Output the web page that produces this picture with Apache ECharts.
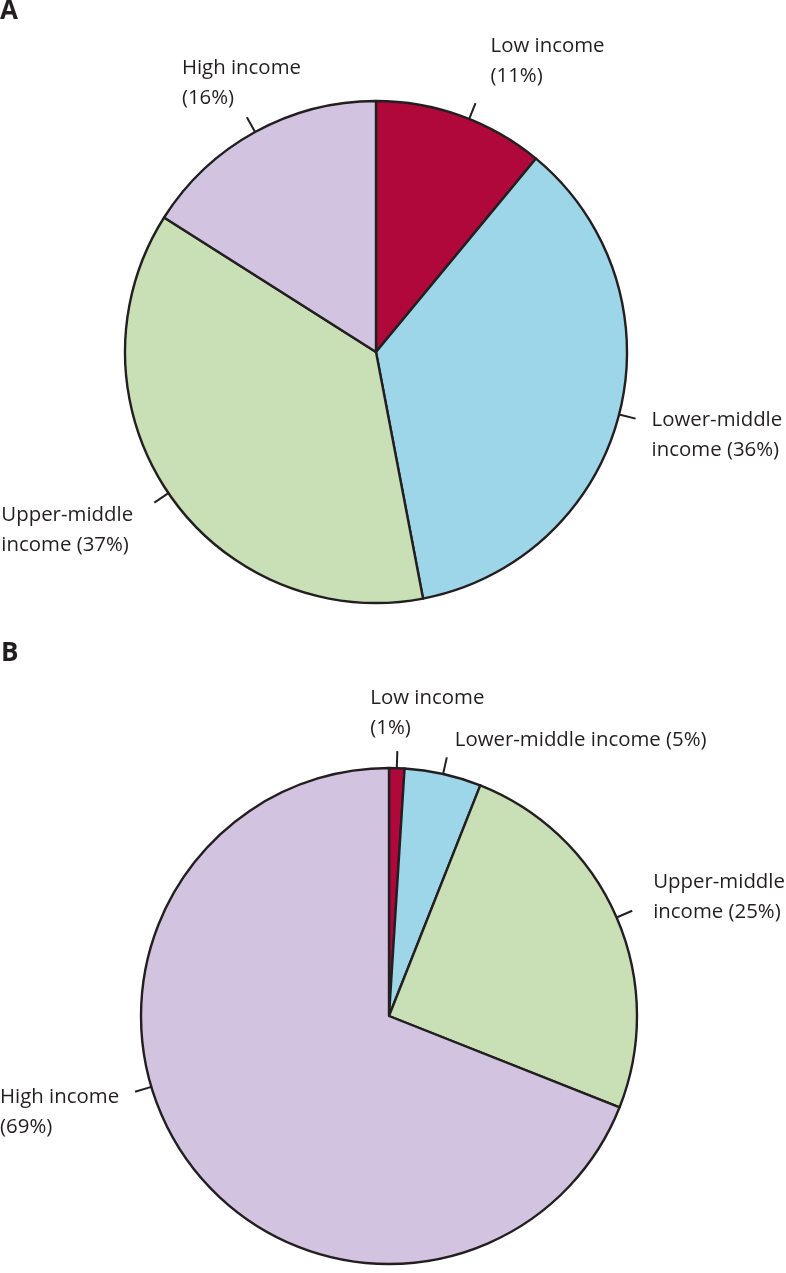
<!DOCTYPE html>
<html>
<head>
<meta charset="utf-8">
<script src="https://cdn.jsdelivr.net/npm/echarts@6/dist/echarts.min.js"></script>
<style>
  html, body { margin: 0; padding: 0; background: #fff; }
  #chart { width: 786px; height: 1273px; }
</style>
</head>
<body>
<div id="chart"></div>
<script>
// income groups, clockwise from 12 o'clock
const categories = ['Low income', 'Lower-middle income', 'Upper-middle income', 'High income'];
const valuesA = [11, 36, 37, 16];
const valuesB = [1, 5, 25, 69];
const labelsA = ['Low income\n(11%)', 'Lower-middle\nincome (36%)', 'Upper-middle\nincome (37%)', 'High income\n(16%)'];
const labelsB = ['Low income\n(1%)', 'Lower-middle income (5%)', 'Upper-middle\nincome (25%)', 'High income\n(69%)'];

const colors = ['#b0083a', '#9dd6e8', '#c9e0b6', '#d2c4e0'];
const ink = '#231f20';

// label placement relative to the end of each tick (styles only)
const labelOffsetA = [[15, -72], [16, -13], [-153, -2], [-65, -64]];
const labelOffsetB = [[-27, -68], [8, -32], [21, -44], [-135, -10]];
// small turn of a tick away from the slice middle, degrees clockwise
const tickShiftA = [2, 0, 0, 0];
const tickShiftB = [0, 0, 0, 17.6];

function rotate(pt, c, deg) {
    const a = deg * Math.PI / 180;
    const dx = pt[0] - c[0], dy = pt[1] - c[1];
    return [c[0] + dx * Math.cos(a) - dy * Math.sin(a), c[1] + dx * Math.sin(a) + dy * Math.cos(a)];
}

function makePie(values, labels, center, radius, offsets, shifts) {
    return {
        type: 'pie',
        center: center,
        radius: radius,
        startAngle: 90,
        clockwise: true,
        avoidLabelOverlap: false,
        silent: true,
        animation: false,
        emphasis: { disabled: true },
        itemStyle: { borderColor: ink, borderWidth: 2.4 },
        label: {
            show: true,
            position: 'outside',
            fontFamily: 'Open Sans',
            fontSize: 20.4,
            lineHeight: 30,
            color: ink,
            width: 260,
            overflow: 'none',
            formatter: p => labels[p.dataIndex]
        },
        labelLine: {
            show: true,
            length: 17,
            length2: 0,
            smooth: false,
            lineStyle: { color: ink, width: 2 }
        },
        labelLayout: function (p) {
            if (!p.labelLinePoints) return {};
            const pts = p.labelLinePoints.map(pt => rotate(pt, center, shifts[p.dataIndex]));
            const end = pts[1];
            const off = offsets[p.dataIndex];
            return {
                x: end[0] + off[0],
                y: end[1] + off[1],
                align: 'left',
                verticalAlign: 'top',
                labelLinePoints: pts
            };
        },
        data: categories.map((name, i) => ({
            name: name,
            value: values[i],
            itemStyle: { color: colors[i] }
        }))
    };
}

const chart = echarts.init(document.getElementById('chart'), null, { renderer: 'canvas' });
chart.setOption({
    backgroundColor: '#ffffff',
    animation: false,
    title: [
        { text: 'A', left: 0, top: -1, padding: 0, textStyle: { fontFamily: 'Open Sans', fontSize: 26, fontWeight: 'bold', color: ink } },
        { text: 'B', left: 1, top: 641, padding: 0, textStyle: { fontFamily: 'Open Sans', fontSize: 26, fontWeight: 'bold', color: ink } }
    ],
    series: [
        makePie(valuesA, labelsA, [376, 352], 251, labelOffsetA, tickShiftA),
        makePie(valuesB, labelsB, [389, 1016], 248, labelOffsetB, tickShiftB)
    ]
});
</script>
</body>
</html>
